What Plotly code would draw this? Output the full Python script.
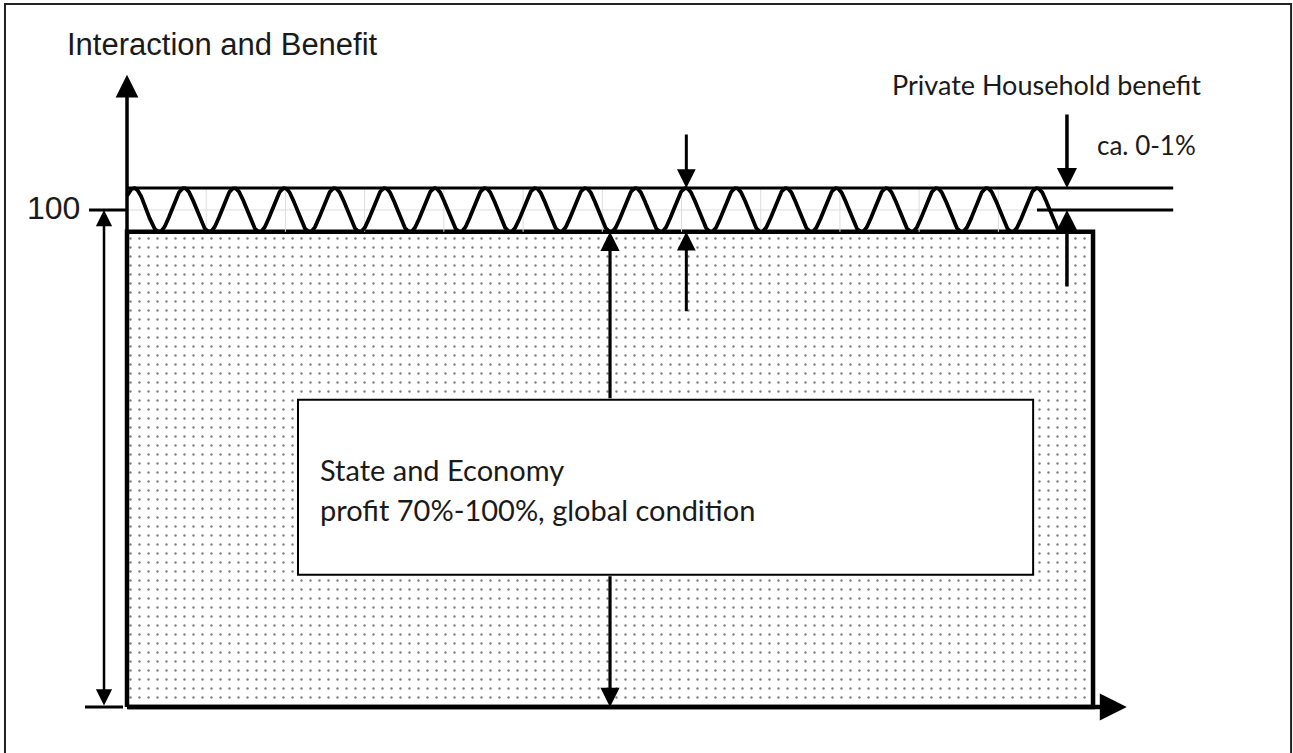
import numpy as np
import plotly.graph_objects as go

# ---------------- data (schematic values) ----------------
y_axis_title = "Interaction and Benefit"
tick_values = [100]
tick_labels = ["100"]
state_level = [0, 95.6]          # State and Economy block (bottom, top)
household_band = [95.6, 104.4]   # oscillating private household band
band_lines = [104.4, 100]        # reference lines for "ca. 0-1%"
block_x = [0, 100]               # width of the block
wave_cycles = 18.5
wave_x = [0.0, 96.8]
box_x = [17.7, 93.8]
box_y = [26.6, 61.8]
box_lines = ["State and Economy", "profit 70%-100%, global condition"]
household_label = "Private Household benefit"
share_label = "ca. 0-1%"

# ---------------- figure ----------------
fig = go.Figure()

# dotted block
fig.add_trace(go.Scatter(
    x=[block_x[0], block_x[1], block_x[1], block_x[0], block_x[0]],
    y=[state_level[0], state_level[0], state_level[1], state_level[1], state_level[0]],
    mode="lines", fill="toself", line=dict(color="black", width=4.5),
    fillcolor="white",
    fillpattern=dict(shape=".", size=9, solidity=0.055, fgcolor="#000000", bgcolor="white"),
    hoverinfo="skip", showlegend=False))

# faint grid remnants in the band
mid = (household_band[0] + household_band[1]) / 2
fig.add_trace(go.Scatter(x=[block_x[0], wave_x[1]], y=[mid, mid], mode="lines",
                         line=dict(color="#dddddd", width=1), hoverinfo="skip", showlegend=False))
for k in range(1, 12):
    xv = 8.2 * k
    fig.add_trace(go.Scatter(x=[xv, xv], y=[household_band[0], household_band[1]], mode="lines",
                             line=dict(color="#dddddd", width=1), hoverinfo="skip", showlegend=False))

# wave
xs = np.linspace(wave_x[0], wave_x[1], 2000)
period = (wave_x[1] - 0.72) / wave_cycles
amp = (household_band[1] - household_band[0]) / 2
ys = mid + amp * np.cos(2 * np.pi * (xs - 0.72) / period)
fig.add_trace(go.Scatter(x=xs, y=ys, mode="lines", line=dict(color="black", width=3.8),
                         hoverinfo="skip", showlegend=False))

# band lines
fig.add_trace(go.Scatter(x=[block_x[0], 108.3], y=[band_lines[0]] * 2, mode="lines",
                         line=dict(color="black", width=3), hoverinfo="skip", showlegend=False))
fig.add_trace(go.Scatter(x=[94.2, 108.3], y=[band_lines[1]] * 2, mode="lines",
                         line=dict(color="black", width=3), hoverinfo="skip", showlegend=False))

# tick at 100 and bottom tick for the left dimension arrow
fig.add_trace(go.Scatter(x=[-3.93, 0], y=[tick_values[0]] * 2, mode="lines",
                         line=dict(color="black", width=3), hoverinfo="skip", showlegend=False))
fig.add_trace(go.Scatter(x=[-4.35, -0.41], y=[0, 0], mode="lines",
                         line=dict(color="black", width=3), hoverinfo="skip", showlegend=False))

shapes = [
    # white text box
    dict(type="rect", xref="x", yref="y", x0=box_x[0], x1=box_x[1], y0=box_y[0], y1=box_y[1],
         line=dict(color="black", width=2), fillcolor="white", layer="above"),
    # outer frame
    dict(type="rect", xref="x", yref="y", x0=-12.63, x1=120.5, y0=-10.7, y1=141.45,
         line=dict(color="#222222", width=2), fillcolor="rgba(0,0,0,0)", layer="above"),
]

annotations = []

def arrow(x0, y0, x1, y1, w=2.5, size=1.1, side="end"):
    annotations.append(dict(x=x1, y=y1, ax=x0, ay=y0, xref="x", yref="y", axref="x", ayref="y",
                            text="", showarrow=True, arrowhead=2, startarrowhead=2,
                            arrowsize=size, startarrowsize=size, arrowside=side,
                            arrowwidth=w, arrowcolor="black", standoff=0, startstandoff=0))

# axes
arrow(0, 0, 0, 127.2, w=3.5, size=1.3)
arrow(0, 0, 103.5, 0, w=4.5, size=1.2)
# left dimension arrow (double headed)
arrow(-2.38, 0, -2.38, tick_values[0], w=2.5, size=1.3, side="end+start")
# center arrow (split around the box)
arrow(50, box_y[1], 50, state_level[1], w=3.2, size=1.2)
arrow(50, box_y[0], 50, 0, w=3.2, size=1.2)
# middle pair
arrow(57.9, 115.5, 57.9, household_band[1], w=3, size=1.25)
arrow(57.9, 79.3, 57.9, household_band[0], w=3, size=1.25)
# right pair
arrow(97.3, 119.5, 97.3, band_lines[0], w=3.5, size=1.15)
arrow(97.3, 84.3, 97.3, band_lines[1], w=3.5, size=1.15)

# texts
annotations.append(dict(x=9.9, y=133.2, xref="x", yref="y", text=y_axis_title, showarrow=False,
                        font=dict(family="Liberation Sans, Arial", size=31, color="#1a1a1a"),
                        xanchor="center", yanchor="middle"))
annotations.append(dict(x=-4.66, y=100.4, xref="x", yref="y", text=tick_labels[0], showarrow=False,
                        font=dict(family="Liberation Sans, Arial", size=32, color="#1a1a1a"),
                        xanchor="right", yanchor="middle"))
annotations.append(dict(x=111.4, y=125.2, xref="x", yref="y", text=household_label, showarrow=False,
                        font=dict(family="Lato", size=27, color="#1a1a1a"),
                        xanchor="right", yanchor="middle"))
annotations.append(dict(x=100.2, y=113.1, xref="x", yref="y", text=share_label, showarrow=False,
                        font=dict(family="Lato", size=26, color="#1a1a1a"),
                        xanchor="left", yanchor="middle"))
annotations.append(dict(x=19.8, y=47.7, xref="x", yref="y", text=box_lines[0], showarrow=False,
                        font=dict(family="Lato", size=29, color="#1a1a1a"),
                        xanchor="left", yanchor="middle"))
annotations.append(dict(x=19.8, y=39.8, xref="x", yref="y", text=box_lines[1], showarrow=False,
                        font=dict(family="Lato", size=29, color="#1a1a1a"),
                        xanchor="left", yanchor="middle"))

fig.update_layout(
    width=1293, height=753,
    margin=dict(l=0, r=0, t=0, b=0),
    paper_bgcolor="white", plot_bgcolor="white",
    xaxis=dict(range=[-13.147, 120.70], visible=False, fixedrange=True),
    yaxis=dict(range=[-9.256, 142.25], visible=False, fixedrange=True),
    shapes=shapes, annotations=annotations, showlegend=False,
)

fig.write_html("out.html", config={"displayModeBar": False},
               post_script="document.body.style.margin='0';document.body.style.overflow='hidden';")
